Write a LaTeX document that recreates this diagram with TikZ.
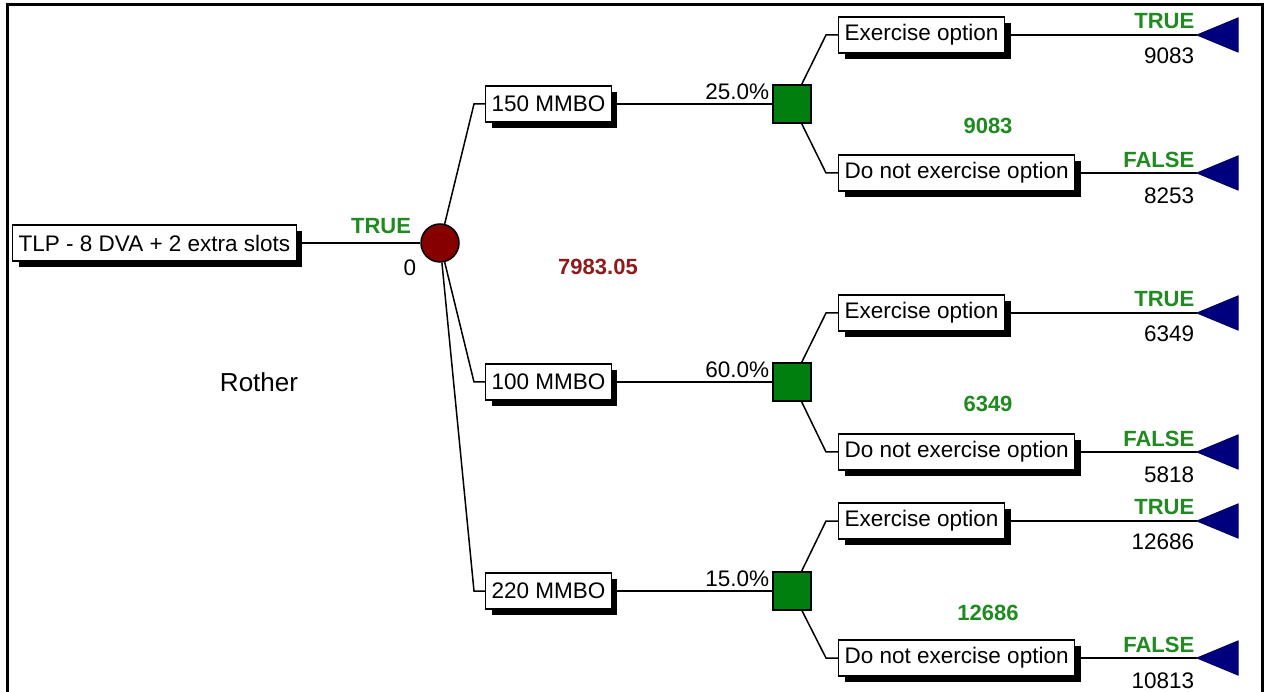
\documentclass[tikz,border=0pt]{standalone}
\usepackage{fontspec}
\setmainfont{Liberation Sans}
\usetikzlibrary{shadows}
\definecolor{verdict}{HTML}{1F8A1F}
\definecolor{decision}{HTML}{007F0E}
\definecolor{chance}{HTML}{870000}
\definecolor{payoff}{HTML}{00007F}
\definecolor{expval}{HTML}{8E1B1B}

\begin{document}
\begin{tikzpicture}[
  x=1pt, y=-1pt, line width=1.5pt,
  lbl/.style={draw=black, fill=white, line width=1.4pt, minimum height=36pt,
    inner xsep=6pt, inner ysep=2pt, anchor=west, font=\fontsize{22.5}{26}\selectfont,
    drop shadow={shadow xshift=6pt, shadow yshift=-6pt, fill=black, opacity=1}},
  chancenode/.style={circle, draw=black, fill=chance, minimum size=38pt, inner sep=0pt},
  decnode/.style={rectangle, draw=black, fill=decision, minimum size=38pt, inner sep=0pt},
  leaf/.style={fill=payoff, draw=payoff!70!black, line width=1pt},
  txt/.style={font=\fontsize{22.5}{26}\selectfont, inner sep=1pt},
  flag/.style={font=\bfseries\fontsize{22}{26}\selectfont, text=verdict, inner sep=1pt},
]
  \useasboundingbox (0,0) rectangle (1267,692);
  % Frame, open at the bottom.
  \draw[line width=3pt] (7,692) -- (7,5) -- (1262,5) -- (1262,692);

  % Root and chance node.
  \node[lbl] (root) at (12,243) {TLP - 8 DVA + 2 extra slots};
  \node[chancenode] (ch) at (440,243) {};
  \draw (root.east) -- (ch.west);
  \node[flag] (tr) at (381,226) {TRUE};
  \node[txt] (zero) at (410,268) {0};
  \node[txt, font=\fontsize{26}{30}\selectfont] (who) at (259,382) {Rother};
  \node[flag, text=expval] (ev) at (598,267) {7983.05};

  % One scenario per reserve size: decision square, then exercise / not.
  \foreach \g/\yb/\ye/\yd/\vol/\p/\vt/\vf in {
      1/104/35/173/150/25.0/9083/8253,
      2/382/313/452/100/60.0/6349/5818,
      3/591/521/658/220/15.0/12686/10813} {
    \node[lbl] (b\g) at (485,\yb) {\vol{} MMBO};
    \coordinate (kb\g) at (474,\yb);
    \draw (ch) -- (kb\g) -- (b\g.west);
    \node[decnode] (d\g) at (792,\yb) {};
    \draw (b\g.east) -- (d\g.west);
    \node[txt, anchor=east] (p\g) at (771,\yb-12) {\p\%};
    \node[lbl] (e\g) at (838,\ye) {Exercise option};
    \node[lbl] (n\g) at (838,\yd) {Do not exercise option};
    \coordinate (ke\g) at (826,\ye);
    \coordinate (kn\g) at (826,\yd);
    \draw (d\g) -- (ke\g) -- (e\g.west);
    \draw (d\g) -- (kn\g) -- (n\g.west);
    \node[flag] (m\g) at (988,\yb+22) {\vt};
    % Terminal triangles.
    \coordinate (te\g) at (1197,\ye);
    \coordinate (tn\g) at (1197,\yd);
    \draw (e\g.east) -- (te\g);
    \draw (n\g.east) -- (tn\g);
    \filldraw[leaf] (te\g) -- ++(41,-17) -- ++(0,34) -- cycle;
    \filldraw[leaf] (tn\g) -- ++(41,-17) -- ++(0,34) -- cycle;
    \node[flag, anchor=east] (ft\g) at (1196,\ye-14) {TRUE};
    \node[txt, anchor=east] (vt\g) at (1196,\ye+21) {\vt};
    \node[flag, anchor=east] (ff\g) at (1196,\yd-13) {FALSE};
    \node[txt, anchor=east] (vf\g) at (1196,\yd+23) {\vf};
  }
\end{tikzpicture}
\end{document}
